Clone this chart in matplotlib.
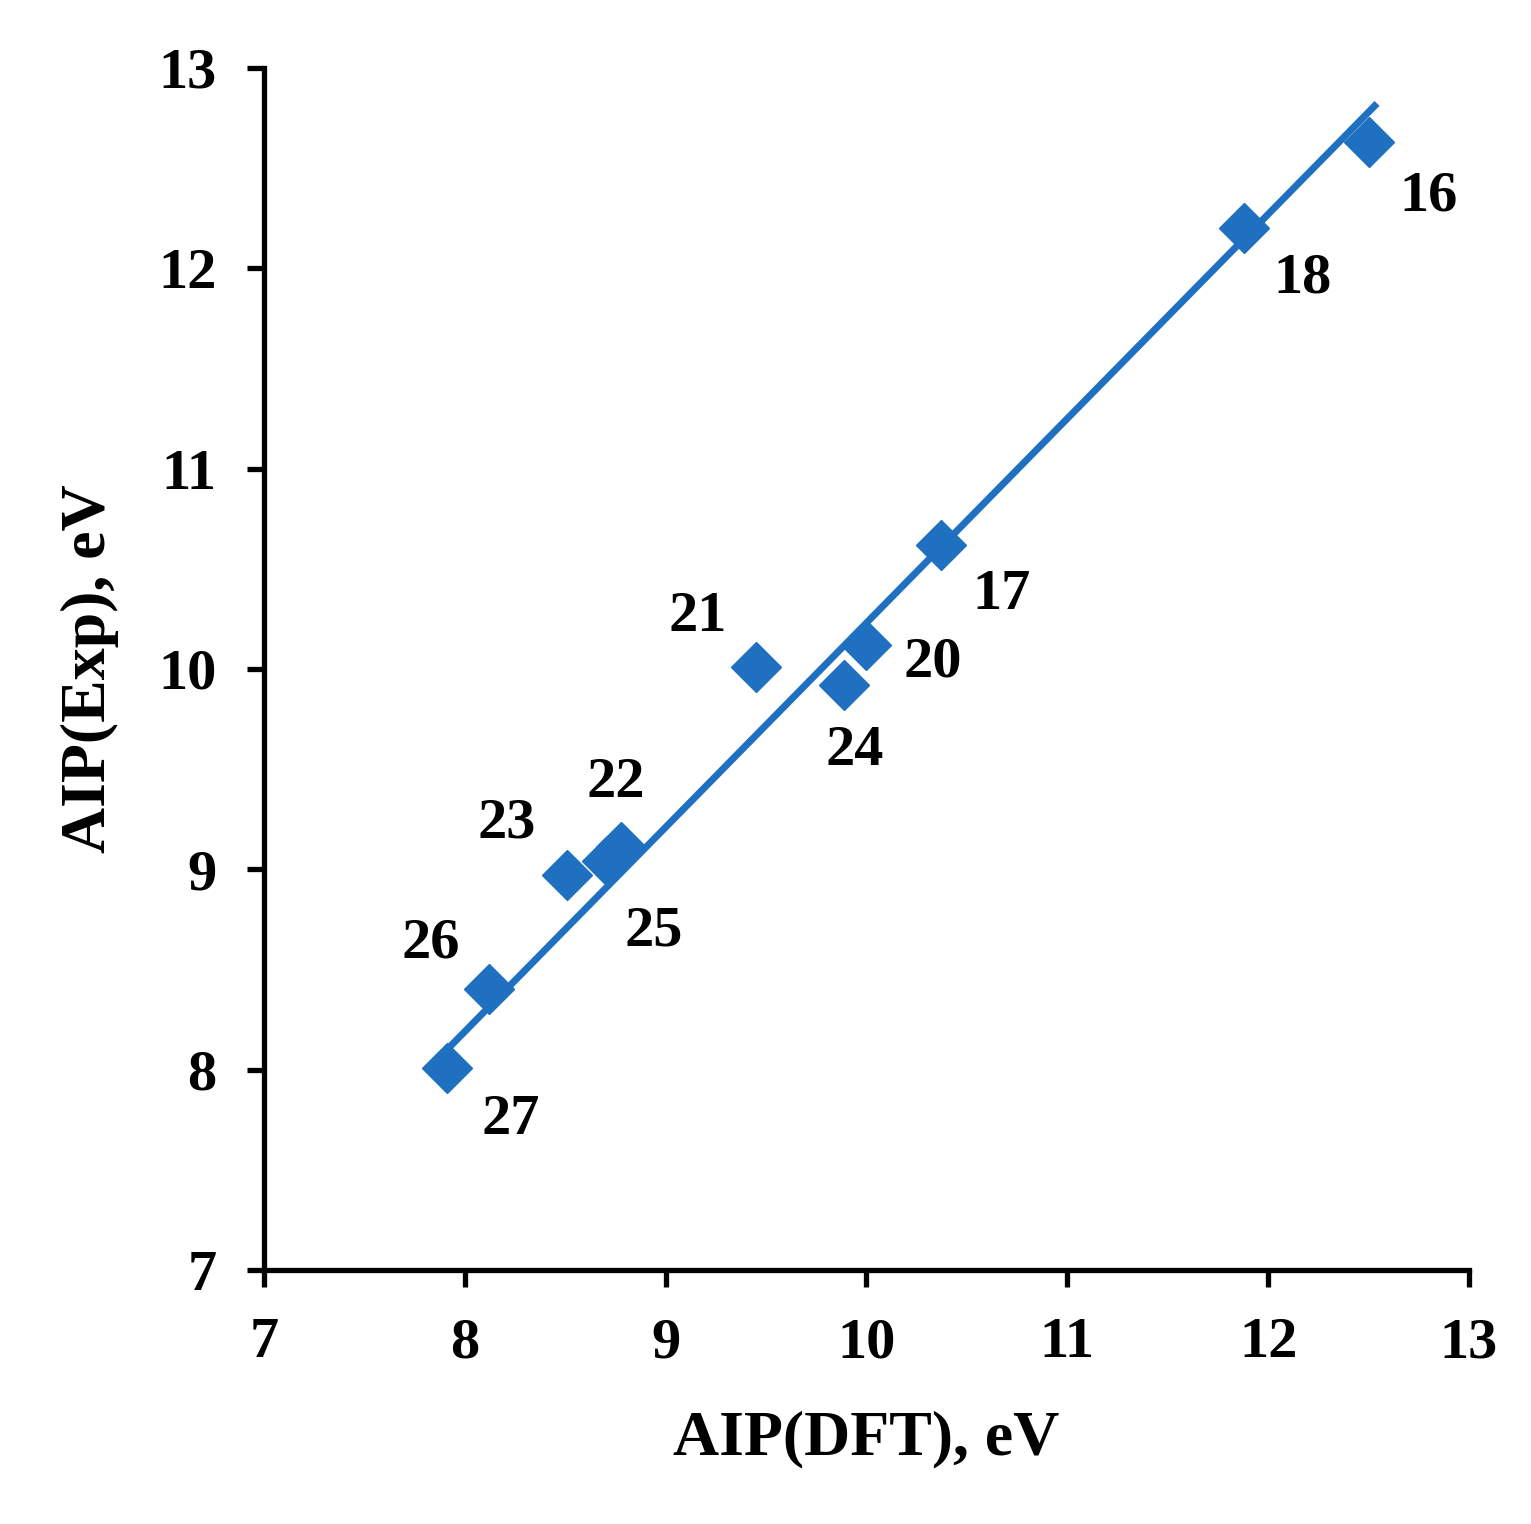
import numpy as np
import matplotlib
matplotlib.use("Agg")
import matplotlib.pyplot as plt

labels = ["16", "17", "18", "20", "21", "22", "23", "24", "25", "26", "27"]
x_dft = [12.50, 10.37, 11.88, 10.00, 9.45, 8.78, 8.51, 9.89, 8.71, 8.12, 7.91]
y_exp = [12.63, 10.62, 12.20, 10.12, 10.01, 9.11, 8.97, 9.92, 9.04, 8.40, 8.01]
trend_slope = 1.02
trend_intercept = 0.03
trend_x = [7.93, 12.53]
label_pos = {"16": (12.80, 12.36), "17": (10.67, 10.37), "18": (12.17, 11.95),
             "20": (10.33, 10.03), "21": (9.16, 10.26), "22": (8.75, 9.43),
             "23": (8.21, 9.23), "24": (9.94, 9.59), "25": (8.94, 8.69),
             "26": (7.83, 8.63), "27": (8.23, 7.75)}

plt.rcParams['font.family'] = ['Liberation Serif', 'DejaVu Serif']
plt.rcParams['font.weight'] = 'bold'
fig = plt.figure(figsize=(15.31, 15.24), dpi=100)
ax = fig.add_axes([0.1724, 0.1667, 0.7871, 0.7887])
blue = '#1f70c1'
xs = np.array(x_dft); ys = np.array(y_exp)
xl = np.array(trend_x)
ax.plot(xl, trend_slope * xl + trend_intercept, color=blue, lw=5, zorder=2)
ax.plot(xs, ys, 'D', color=blue, markersize=25, zorder=3)
for lab in labels:
    ax.text(*label_pos[lab], lab, fontsize=42, fontweight='bold', ha='center', va='center')
ax.set_xlim(7, 13); ax.set_ylim(7, 13)
ax.set_xticks(range(7, 14)); ax.set_yticks(range(7, 14))
for s in ['top', 'right']:
    ax.spines[s].set_visible(False)
for s in ['left', 'bottom']:
    ax.spines[s].set_linewidth(3.8)
ax.tick_params(width=3.8, length=12, labelsize=42, pad=22)
for t in ax.get_xticklabels() + ax.get_yticklabels():
    t.set_fontweight('bold')
ax.set_xlabel('AIP(DFT), eV', fontsize=46, fontweight='bold', labelpad=30)
ax.set_ylabel('AIP(Exp), eV', fontsize=46, fontweight='bold', labelpad=28)
fig.savefig('out.png', dpi=100)
